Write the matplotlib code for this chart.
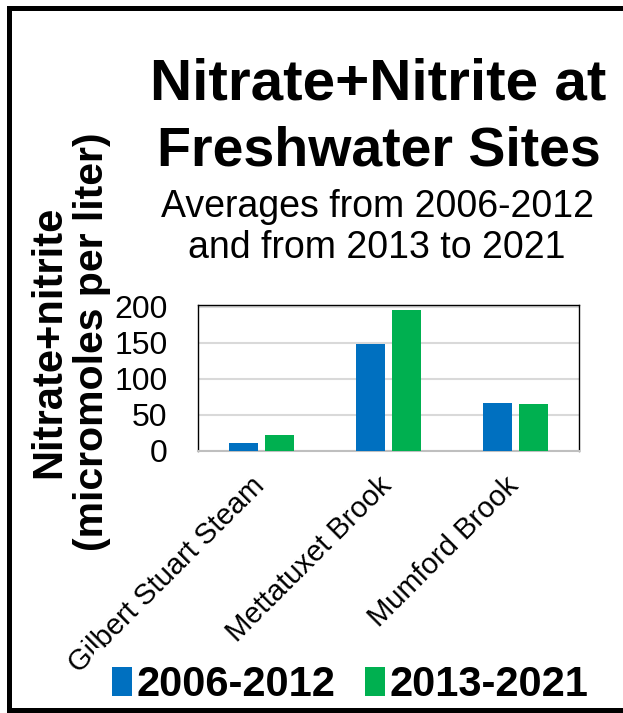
import matplotlib
matplotlib.use("Agg")
import matplotlib.pyplot as plt
from matplotlib.patches import Patch, Rectangle
from matplotlib.transforms import ScaledTranslation
import numpy as np

categories = ["Gilbert Stuart Steam", "Mettatuxet Brook", "Mumford Brook"]
series_names = ["2006-2012", "2013-2021"]
values_2006_2012 = [11.5, 149, 66.5]
values_2013_2021 = [22, 196, 65.5]
yticks = [0, 50, 100, 150, 200]

BLUE = "#0070C0"
GREEN = "#00B050"
FONT = "Liberation Sans"

W, H = 623, 713
fig = plt.figure(figsize=(W / 100, H / 100), dpi=100)
fig.patch.set_facecolor("white")
fig.patch.set_edgecolor("white")
fig.patch.set_linewidth(0)

def fx(px):
    return px / W

def fy(py):
    return 1 - py / H

ax = fig.add_axes([fx(198), fy(451), fx(579) - fx(198), (451 - 305) / H])

x = np.arange(len(categories))
bw = 0.225
off = 0.142
ax.bar(x - off, values_2006_2012, bw, color=BLUE, zorder=3, label=series_names[0])
ax.bar(x + off, values_2013_2021, bw, color=GREEN, zorder=3, label=series_names[1])

ax.set_xlim(-0.5, len(categories) - 0.5)
ax.set_ylim(0, 202.5)
ax.set_yticks(yticks)
ax.set_yticklabels([str(v) for v in yticks], fontsize=23, family=FONT)
ax.yaxis.grid(True, color="#D9D9D9", linewidth=1.5, zorder=0)
ax.set_axisbelow(True)
ax.tick_params(axis="y", length=0, pad=22)
ax.tick_params(axis="x", length=0, pad=26)
ax.set_xticks(x)
ax.set_xticklabels(categories, rotation=45, ha="right", va="baseline",
                   rotation_mode="anchor", fontsize=21, family=FONT)
for lab in ax.get_xticklabels():
    lab.set_transform(lab.get_transform() + ScaledTranslation(4 / 100, 0, fig.dpi_scale_trans))

for s in ["left", "top", "right"]:
    ax.spines[s].set_color("black")
    ax.spines[s].set_linewidth(1.0)
ax.spines["bottom"].set_color("#BFBFBF")
ax.spines["bottom"].set_linewidth(1.5)

# Titles
fig.text(fx(378), fy(100), "Nitrate+Nitrite at", ha="center", va="baseline",
         fontsize=42, fontweight="bold", family=FONT)
fig.text(fx(379), fy(165), "Freshwater Sites", ha="center", va="baseline",
         fontsize=40, fontweight="bold", family=FONT)
fig.text(fx(377), fy(217), "Averages from 2006-2012", ha="center", va="baseline",
         fontsize=27, family=FONT)
fig.text(fx(377), fy(258), "and from 2013 to 2021", ha="center", va="baseline",
         fontsize=27, family=FONT)

# Y label (two lines)
fig.text(fx(49), fy(342), "Nitrate+nitrite", rotation=90, ha="center", va="center",
         fontsize=30, fontweight="bold", family=FONT)
fig.text(fx(92), fy(342), "(micromoles per liter)", rotation=90, ha="center", va="center",
         fontsize=29.5, fontweight="bold", family=FONT)

# Legend
handles = [Patch(facecolor=BLUE, edgecolor="none"), Patch(facecolor=GREEN, edgecolor="none")]
leg = fig.legend(handles, series_names, loc="center", bbox_to_anchor=(fx(350), fy(685)),
                 ncol=2, frameon=True, fancybox=False, facecolor="white", edgecolor="none",
                 framealpha=1, handlelength=0.5, handleheight=0.7, handletextpad=0.1,
                 columnspacing=0.7, borderpad=0.42,
                 prop={"family": FONT, "weight": "bold", "size": 30})
leg.set_zorder(5)

# Outer border as filled bars (left, top, bottom; open on the right), drawn on top
def bar_px(x0, y0, x1, y1):
    r = Rectangle((fx(x0), fy(y1)), fx(x1) - fx(x0), fy(y0) - fy(y1),
                  transform=fig.transFigure, facecolor="black",
                  edgecolor="none", linewidth=0, zorder=10)
    fig.add_artist(r)

bar_px(7, 6, 12, 713)     # left
bar_px(7, 6, 623, 11)     # top
bar_px(7, 708, 623, 713)  # bottom

fig.savefig("out.png", dpi=100, facecolor="white", edgecolor="white")
